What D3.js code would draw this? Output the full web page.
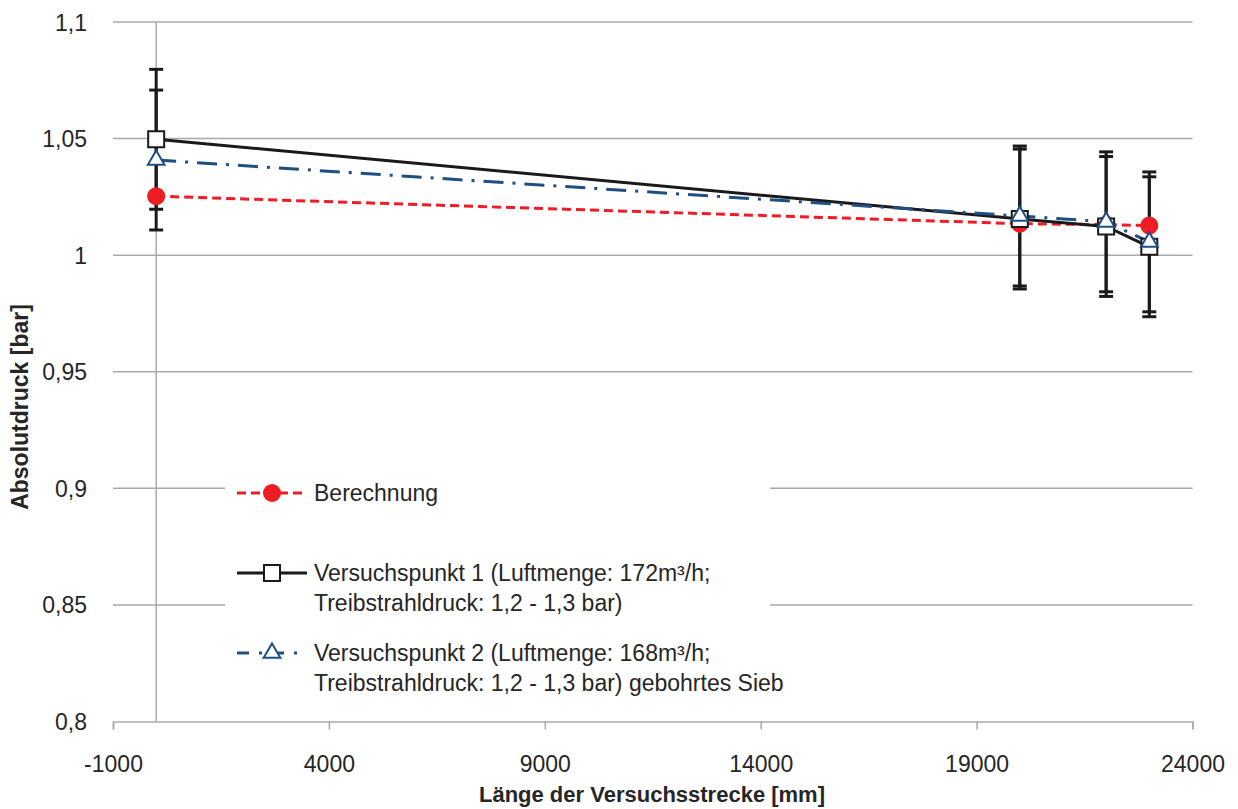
<!DOCTYPE html>
<html>
<head>
<meta charset="utf-8">
<script src="https://cdn.jsdelivr.net/npm/d3@7"></script>
<style>
html,body{margin:0;padding:0;background:#fff;}
svg{display:block;font-family:"Liberation Sans",Arial,sans-serif;}
</style>
</head>
<body>
<svg id="chart" width="1238" height="809"></svg>
<script>
// ---- data ----
const positions = [0, 20000, 22000, 23000];
const berechnung = [1.0253, 1.0135, 1.0131, 1.0127];
const versuch1 = [1.0497, 1.0155, 1.0123, 1.0036];
const versuch1Err = [0.03, 0.03, 0.03, 0.03];
const versuch2 = [1.0408, 1.0168, 1.0143, 1.0057];
const versuch2Err = [0.03, 0.03, 0.03, 0.03];
const xTicks = [-1000, 4000, 9000, 14000, 19000, 24000];
const xTickLabels = ["-1000", "4000", "9000", "14000", "19000", "24000"];
const yTicks = [0.8, 0.85, 0.9, 0.95, 1.0, 1.05, 1.1];
const yTickLabels = ["0,8", "0,85", "0,9", "0,95", "1", "1,05", "1,1"];
const legendLabels = [
  ["Berechnung"],
  ["Versuchspunkt 1 (Luftmenge: 172m³/h;", "Treibstrahldruck: 1,2 - 1,3 bar)"],
  ["Versuchspunkt 2 (Luftmenge: 168m³/h;", "Treibstrahldruck: 1,2 - 1,3 bar) gebohrtes Sieb"]
];
const xTitle = "Länge der Versuchsstrecke [mm]";
const yTitle = "Absolutdruck [bar]";

// ---- layout ----
const svg = d3.select("#chart");
const x = d3.scaleLinear().domain([-1000, 24000]).range([113, 1192.5]);
const y = d3.scaleLinear().domain([0.8, 1.1]).range([721.5, 22]);
const gridColor = "#a9a9a9";
const textColor = "#262626";
const red = "#ee1c25";
const blue = "#1f4e82";
const black = "#1a1a1a";

// gridlines
svg.append("g").selectAll("line").data(yTicks.slice(1)).join("line")
  .attr("x1", x(-1000)).attr("x2", x(24000))
  .attr("y1", d => y(d)).attr("y2", d => y(d))
  .attr("stroke", gridColor).attr("stroke-width", 1.5);

// x axis
const xAxis = d3.axisBottom(x).tickValues(xTicks).tickSize(8)
  .tickFormat((d, i) => xTickLabels[i]);
const gx = svg.append("g").attr("transform", `translate(0,${y(0.8)})`).call(xAxis);
gx.select(".domain").attr("stroke", gridColor).attr("stroke-width", 1.5);
gx.selectAll(".tick line").attr("stroke", gridColor).attr("stroke-width", 1.5);
gx.selectAll(".tick text").attr("fill", textColor).attr("font-size", 23)
  .attr("font-family", "Liberation Sans, Arial, sans-serif").attr("dy", null).attr("y", 50);

// y axis labels
const yAxis = d3.axisLeft(y).tickValues(yTicks).tickSize(0)
  .tickFormat((d, i) => yTickLabels[i]);
const gy = svg.append("g").attr("transform", `translate(${x(-1000)},0)`).call(yAxis);
gy.select(".domain").remove();
gy.selectAll(".tick text").attr("fill", textColor).attr("font-size", 23)
  .attr("font-family", "Liberation Sans, Arial, sans-serif").attr("x", -26).attr("dy", "0.35em");

// vertical axis line at x=0
svg.append("line").attr("x1", x(0)).attr("x2", x(0)).attr("y1", y(1.1)).attr("y2", y(0.8))
  .attr("stroke", gridColor).attr("stroke-width", 1.5);

// legend background
svg.append("rect").attr("x", 225).attr("y", 462).attr("width", 545).attr("height", 250).attr("fill", "#fff");

// series
const line = d3.line().x(d => x(d[0])).y(d => y(d[1]));
const zip = arr => positions.map((p, i) => [p, arr[i]]);
svg.append("path").attr("d", line(zip(berechnung))).attr("fill", "none")
  .attr("stroke", red).attr("stroke-width", 3).attr("stroke-dasharray", "9,5");
svg.append("path").attr("d", line(zip(versuch1))).attr("fill", "none")
  .attr("stroke", black).attr("stroke-width", 3);
svg.append("path").attr("d", line(zip(versuch2))).attr("fill", "none")
  .attr("stroke", blue).attr("stroke-width", 3).attr("stroke-dasharray", "20,9,3,9");

// error bars
function errorBars(vals, errs) {
  const g = svg.append("g").attr("stroke", black).attr("stroke-width", 3);
  positions.forEach((p, i) => {
    const cx = x(p), top = y(vals[i] + errs[i]), bot = y(vals[i] - errs[i]);
    g.append("line").attr("x1", cx).attr("x2", cx).attr("y1", top).attr("y2", bot);
    g.append("line").attr("x1", cx - 7).attr("x2", cx + 7).attr("y1", top).attr("y2", top);
    g.append("line").attr("x1", cx - 7).attr("x2", cx + 7).attr("y1", bot).attr("y2", bot);
  });
}
errorBars(versuch1, versuch1Err);
errorBars(versuch2, versuch2Err);

// markers
const circleSym = d3.symbol().type(d3.symbolCircle).size(Math.PI * 9 * 9);
const squareSym = d3.symbol().type(d3.symbolSquare).size(16 * 16);
const triSym = d3.symbol().type(d3.symbolTriangle).size(120);
svg.append("g").selectAll("path").data(zip(berechnung)).join("path")
  .attr("d", circleSym).attr("transform", d => `translate(${x(d[0])},${y(d[1])})`)
  .attr("fill", red);
svg.append("g").selectAll("path").data(zip(versuch1)).join("path")
  .attr("d", squareSym).attr("transform", d => `translate(${x(d[0])},${y(d[1])})`)
  .attr("fill", "#fff").attr("stroke", black).attr("stroke-width", 2);
svg.append("g").selectAll("path").data(zip(versuch2)).join("path")
  .attr("d", triSym).attr("transform", d => `translate(${x(d[0])},${y(d[1])})`)
  .attr("fill", "#fff").attr("stroke", blue).attr("stroke-width", 2);

// legend
const legRows = [493, 573, 653];
const lx1 = 237, lx2 = 307, lmx = 272, ltx = 314;
svg.append("line").attr("x1", lx1).attr("x2", lx2).attr("y1", legRows[0]).attr("y2", legRows[0])
  .attr("stroke", red).attr("stroke-width", 3).attr("stroke-dasharray", "9,5");
svg.append("path").attr("d", circleSym).attr("transform", `translate(${lmx},${legRows[0]})`).attr("fill", red);
svg.append("line").attr("x1", lx1).attr("x2", lx2).attr("y1", legRows[1]).attr("y2", legRows[1])
  .attr("stroke", black).attr("stroke-width", 3);
svg.append("path").attr("d", squareSym).attr("transform", `translate(${lmx},${legRows[1]})`)
  .attr("fill", "#fff").attr("stroke", black).attr("stroke-width", 2);
svg.append("line").attr("x1", lx1).attr("x2", lx2).attr("y1", legRows[2]).attr("y2", legRows[2])
  .attr("stroke", blue).attr("stroke-width", 3).attr("stroke-dasharray", "12,10,3,10");
svg.append("path").attr("d", triSym).attr("transform", `translate(${lmx},${legRows[2]})`)
  .attr("fill", "#fff").attr("stroke", blue).attr("stroke-width", 2);

legendLabels.forEach((lines, i) => {
  const t = svg.append("text").attr("x", ltx).attr("y", legRows[i] + 8)
    .attr("font-size", 23).attr("fill", textColor);
  lines.forEach((s, j) => {
    t.append("tspan").attr("x", ltx).attr("dy", j === 0 ? 0 : 30).text(s);
  });
});

// axis titles
svg.append("text").attr("x", 652).attr("y", 802).attr("text-anchor", "middle")
  .attr("font-size", 22).attr("font-weight", "bold").attr("fill", textColor).text(xTitle);
svg.append("text").attr("transform", "translate(28,407) rotate(-90)").attr("text-anchor", "middle")
  .attr("font-size", 23).attr("font-weight", "bold").attr("fill", textColor).text(yTitle);
</script>
</body>
</html>
